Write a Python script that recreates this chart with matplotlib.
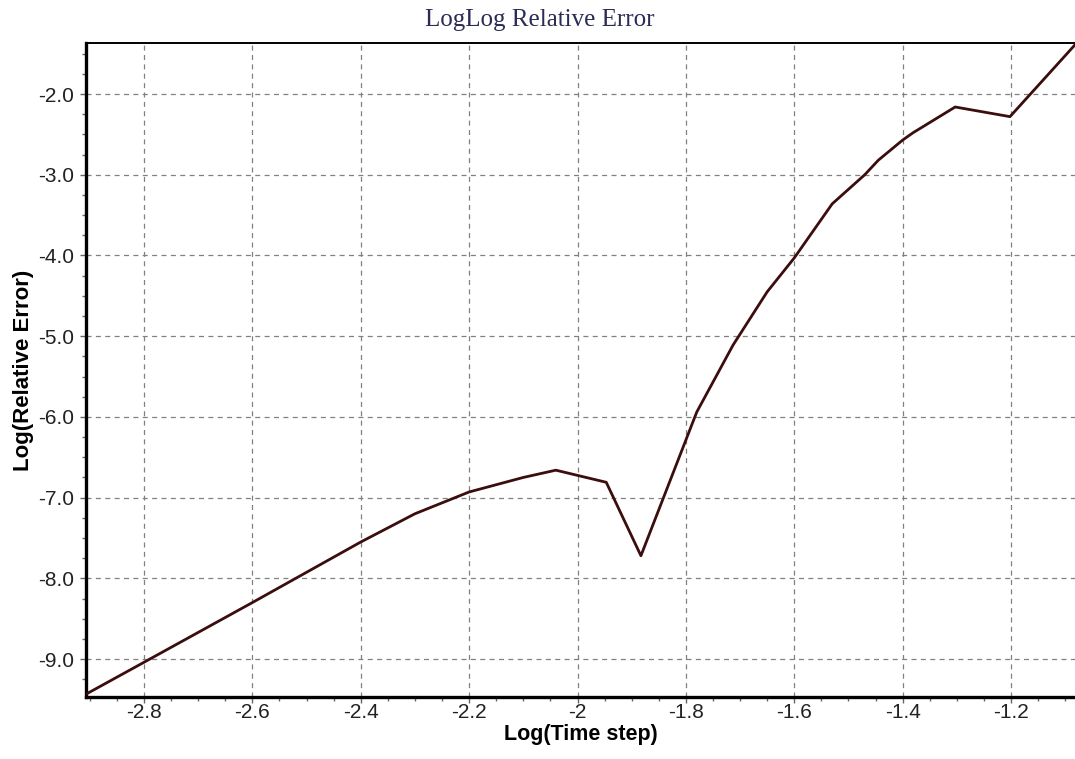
import numpy as np
import matplotlib.pyplot as plt
from matplotlib.ticker import MultipleLocator, FuncFormatter

# data
log_dt = [-2.907, -2.8, -2.6, -2.4, -2.3, -2.2, -2.1, -2.04, -1.947, -1.883,
          -1.78, -1.713, -1.65, -1.6, -1.53, -1.47, -1.445, -1.40, -1.381,
          -1.303, -1.295, -1.202, -1.082]
log_err = [-9.435, -9.04, -8.30, -7.55, -7.20, -6.93, -6.75, -6.66, -6.81, -7.72,
           -5.94, -5.11, -4.45, -4.03, -3.36, -3.0, -2.82, -2.57, -2.48,
           -2.16, -2.17, -2.28, -1.39]

xticks = [-2.8, -2.6, -2.4, -2.2, -2.0, -1.8, -1.6, -1.4, -1.2]
yticks = [-2.0, -3.0, -4.0, -5.0, -6.0, -7.0, -8.0, -9.0]

fig = plt.figure(figsize=(10.75, 7.59), dpi=100)
ax = fig.add_axes([0.08, 0.0817, 0.92, 0.8616])

ax.plot(log_dt, log_err, '-', color='#3b0d0d', lw=2.0, zorder=3)

ax.set_xlim(-2.907, -1.082)
ax.set_ylim(-9.47, -1.368)
ax.set_xticks(xticks)
ax.set_yticks(yticks)
ax.xaxis.set_minor_locator(MultipleLocator(0.05))
ax.yaxis.set_minor_locator(MultipleLocator(0.25))
ax.xaxis.set_major_formatter(FuncFormatter(lambda v, p: '%g' % round(v, 2)))
ax.yaxis.set_major_formatter(FuncFormatter(lambda v, p: '%.1f' % v))

ax.grid(True, which='major', linestyle=(0, (4, 3.5)), color='#808080', lw=0.9)

for s in ['left', 'bottom']:
    ax.spines[s].set_linewidth(2.4)
ax.spines['top'].set_linewidth(1.4)
ax.spines['right'].set_visible(False)

ax.tick_params(which='both', direction='out', color='#666666', labelsize=15,
               labelcolor='#222222', length=4, width=1)
ax.tick_params(axis='x', which='major', pad=0)
ax.tick_params(axis='y', which='major', pad=4.5)
ax.tick_params(which='minor', length=3)
for lab in ax.get_xticklabels() + ax.get_yticklabels():
    lab.set_family('Liberation Sans')

ax.set_xlabel('Log(Time step)', fontsize=15.5, fontweight='bold',
              family='Liberation Sans', labelpad=2)
ax.set_ylabel('Log(Relative Error)', fontsize=16, fontweight='bold',
              family='Liberation Sans', labelpad=3)
fig.text(0.502, 0.973, 'LogLog Relative Error', ha='center', va='center',
         fontsize=18, family='Liberation Serif', color='#2b2b55')

fig.savefig('out.png', dpi=100)
